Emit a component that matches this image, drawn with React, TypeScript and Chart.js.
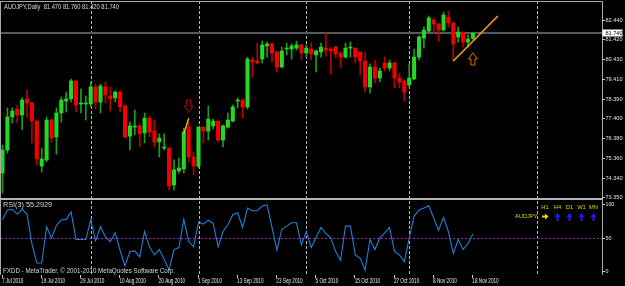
import { useEffect, useRef } from 'react';
import { Chart, registerables } from 'chart.js';

Chart.register(...registerables);

// ---------------- data ----------------
const symbol = 'AUDJPY';
const timeframe = 'Daily';

const opens = [
  74.59, 75.77, 77.46, 77.86, 77.56, 78.38, 78.17, 77.25, 74.95, 75.26,
  77.30, 76.43, 77.66, 78.27, 78.38, 79.30, 78.12, 78.12, 78.12, 78.99,
  78.22, 78.99, 78.53, 78.43, 78.73, 78.02, 76.48, 76.94, 77.00, 76.64,
  77.40, 76.74, 76.18, 75.87, 75.87, 73.98, 74.70, 74.80, 76.94, 75.41,
  74.95, 76.94, 76.74, 77.00, 77.25, 76.28, 76.94, 77.25, 78.27, 78.32,
  77.97, 80.37, 80.32, 80.42, 81.09, 81.19, 80.78, 80.01, 80.93, 80.93,
  80.98, 81.14, 80.73, 80.93, 80.63, 80.78, 80.98, 80.93, 81.03, 80.73,
  80.52, 80.98, 80.98, 80.78, 80.32, 78.99, 80.01, 79.45, 80.22, 79.96,
  80.22, 79.45, 79.30, 79.09, 79.40, 80.52, 81.49, 81.85, 82.41, 82.21,
  81.90, 82.57, 82.26, 81.55, 81.80, 81.29, 81.47,
];
const highs = [
  76.02, 77.92, 77.92, 78.07, 78.43, 78.84, 78.22, 77.30, 75.87, 77.46,
  77.35, 77.92, 78.48, 78.73, 79.40, 79.30, 78.89, 78.53, 79.25, 79.14,
  79.14, 79.25, 78.99, 78.79, 78.79, 78.07, 77.20, 77.81, 77.10, 77.66,
  77.51, 77.30, 76.59, 76.59, 75.87, 75.26, 75.36, 76.89, 77.20, 75.67,
  76.94, 76.94, 78.02, 77.35, 77.25, 77.05, 77.66, 78.07, 78.43, 78.38,
  80.52, 80.52, 81.24, 81.34, 81.29, 81.24, 80.83, 81.03, 81.24, 81.19,
  81.34, 81.19, 81.14, 81.24, 80.88, 81.24, 81.75, 81.03, 81.09, 80.78,
  81.24, 81.29, 80.98, 80.78, 80.78, 80.17, 80.37, 79.96, 80.52, 80.37,
  80.27, 79.70, 79.35, 80.17, 80.93, 81.60, 82.06, 82.62, 82.52, 82.26,
  82.82, 82.87, 82.31, 82.06, 81.80, 81.65, 81.76,
];
const lows = [
  73.57, 75.61, 77.15, 77.15, 76.79, 77.46, 76.13, 75.00, 74.64, 75.16,
  76.18, 75.56, 77.20, 77.71, 78.22, 77.71, 77.66, 77.30, 77.97, 77.86,
  77.66, 78.17, 77.76, 78.22, 77.71, 76.38, 75.77, 76.54, 75.92, 76.13,
  76.43, 75.92, 75.41, 75.77, 73.72, 73.72, 74.59, 74.59, 75.16, 74.49,
  74.85, 76.13, 76.28, 76.84, 76.18, 75.92, 76.89, 77.20, 77.92, 77.40,
  77.86, 79.50, 80.17, 80.22, 80.52, 80.27, 79.76, 79.96, 80.63, 80.42,
  80.88, 80.37, 80.52, 80.37, 79.76, 80.52, 80.57, 79.65, 80.47, 79.96,
  80.47, 80.52, 80.22, 79.60, 78.73, 78.68, 79.19, 79.25, 79.81, 79.81,
  78.94, 78.94, 78.27, 78.99, 79.35, 80.37, 80.98, 81.80, 81.75, 81.34,
  81.85, 82.06, 80.32, 81.29, 81.03, 81.03, 81.42,
];
const closes = [
  75.77, 77.46, 77.76, 77.56, 78.32, 78.17, 77.25, 75.31, 75.31, 77.30,
  76.38, 77.66, 78.32, 78.38, 79.30, 78.07, 78.13, 78.13, 78.99, 78.22,
  79.04, 78.58, 78.38, 78.73, 77.97, 76.43, 77.00, 76.95, 76.59, 77.40,
  76.69, 76.18, 76.38, 75.88, 73.93, 74.75, 74.85, 76.69, 75.41, 74.95,
  76.94, 76.74, 77.35, 77.25, 76.28, 77.00, 77.30, 77.97, 78.28, 77.97,
  80.42, 80.27, 80.22, 81.14, 81.19, 80.73, 80.01, 80.83, 80.94, 81.09,
  81.14, 80.73, 80.98, 80.68, 80.83, 81.03, 80.88, 80.83, 80.68, 80.52,
  80.98, 80.99, 80.52, 80.32, 78.99, 80.01, 79.45, 79.81, 79.96, 80.22,
  79.45, 79.25, 78.73, 79.45, 80.52, 81.55, 81.90, 82.52, 82.21, 81.90,
  82.67, 82.26, 81.19, 81.80, 81.29, 81.44, 81.74,
];
const rsi3 = [
  77, 91, 92, 85, 92, 85, 41, 12, 12, 66,
  49, 68, 76, 77, 88, 47, 47, 47, 76, 45,
  66, 51, 44, 57, 31, 7.5, 29, 30, 21, 59,
  36, 24, 32, 17, 2, 32, 35, 77, 44, 36,
  73, 70, 76, 71, 36, 59, 69, 84, 87, 65,
  94, 90, 90, 97, 98.5, 65, 31, 62, 67, 72,
  72, 39, 59, 35, 50, 65, 56, 49, 29, 16,
  67, 67, 24, 19, 1.5, 47, 32, 49, 57, 65,
  29, 24, 14, 49, 82, 91, 94, 97.5, 79, 61,
  80, 59, 26, 47, 32, 41, 55.2929,
];

const dateTickIndex = [0, 8, 16, 24, 32, 40, 48, 56, 64, 72, 80, 88, 96];
const dateTickLabels = [
  '7 Jul 2010', '19 Jul 2010', '29 Jul 2010', '10 Aug 2010', '20 Aug 2010',
  '1 Sep 2010', '13 Sep 2010', '23 Sep 2010', '5 Oct 2010', '15 Oct 2010',
  '27 Oct 2010', '8 Nov 2010', '18 Nov 2010',
];
const priceTicks = [82.44, 81.42, 80.43, 79.41, 78.39, 77.40, 76.38, 75.36, 74.34, 73.35];
const rsiTicks = [100, 50, 0];
const rsiLevel = 50;
const separatorIndex = [18, 40, 62, 83, 109];
const trendLine = [{ x: 92, y: 80.32 }, { x: 101.1, y: 82.62 }];
const shortLine = [{ x: 37.04, y: 76.62 }, { x: 38.0, y: 77.39 }];
const downArrow = { x: 38, top: 78.32, bottom: 77.7 };
const upArrow = { x: 96, top: 80.74, bottom: 80.11 };
const mtfPeriods = ['H1', 'H4', 'D1', 'W1', 'MN'];
const mtfSignals = ['right', 'up', 'up', 'up', 'up'];
const footerText = 'FXDD - MetaTrader, \u00A9 2001-2010 MetaQuotes Software Corp.';

// ---------------- geometry ----------------
const W = 625;
const H = 286;
const AREA = { left: 1, top: 1, right: 602, bottom: 275 };
const BAR_SPACING = 4.9;
const FIRST_BAR_X = 2.5;
const PRICE_TOP_TICK_Y = 19.5;
const PRICE_BOTTOM_TICK_Y = 197.3;
const RSI_100_Y = 204;
const RSI_0_Y = 271;
const PANEL_SPLIT_Y = 198;

const xMin = -(FIRST_BAR_X - AREA.left) / BAR_SPACING;
const xMax = xMin + (AREA.right - AREA.left) / BAR_SPACING;
const pTop = priceTicks[0];
const pBot = priceTicks[priceTicks.length - 1];
const pxPerPrice = (PRICE_BOTTOM_TICK_Y - PRICE_TOP_TICK_Y) / (pTop - pBot);
const yMax = pTop + (PRICE_TOP_TICK_Y - AREA.top) / pxPerPrice;
const yMin = pTop - (AREA.bottom - PRICE_TOP_TICK_Y) / pxPerPrice;
const pxPerRsi = (RSI_0_Y - RSI_100_Y) / 100;
const rMax = 100 + (RSI_100_Y - AREA.top) / pxPerRsi;
const rMin = -(AREA.bottom - RSI_0_Y) / pxPerRsi;

const BULL = '#22d822';
const BEAR = '#f40000';
const BULL_WICK = '#1e9e1e';
const BEAR_WICK = '#bb0000';
const FONT = '"Liberation Sans", Arial, sans-serif';

function drawText(
  ctx: CanvasRenderingContext2D, s: string, x: number, y: number, size: number,
  color: string, align: 'left' | 'right' | 'center' = 'left', sx = 1, fitWidth?: number,
) {
  ctx.save();
  ctx.font = `${size}px ${FONT}`;
  ctx.fillStyle = color;
  ctx.textBaseline = 'middle';
  ctx.textAlign = 'left';
  const m = ctx.measureText(s).width;
  const k = fitWidth ? fitWidth / m : sx;
  const w = m * k;
  let x0 = x;
  if (align === 'right') x0 = x - w;
  else if (align === 'center') x0 = x - w / 2;
  ctx.translate(x0, y);
  ctx.scale(k, 1);
  ctx.fillText(s, 0, 0);
  ctx.restore();
}

function hollowArrow(
  ctx: CanvasRenderingContext2D, cx: number, yTop: number, yBot: number, dir: 'up' | 'down', color: string,
) {
  const hw = 4.5;
  const sw = 2;
  const mid = (yTop + yBot) / 2;
  ctx.save();
  ctx.strokeStyle = color;
  ctx.lineWidth = 1;
  ctx.beginPath();
  if (dir === 'down') {
    ctx.moveTo(cx - sw, yTop);
    ctx.lineTo(cx + sw, yTop);
    ctx.lineTo(cx + sw, mid);
    ctx.lineTo(cx + hw, mid);
    ctx.lineTo(cx, yBot);
    ctx.lineTo(cx - hw, mid);
    ctx.lineTo(cx - sw, mid);
  } else {
    ctx.moveTo(cx - sw, yBot);
    ctx.lineTo(cx + sw, yBot);
    ctx.lineTo(cx + sw, mid);
    ctx.lineTo(cx + hw, mid);
    ctx.lineTo(cx, yTop);
    ctx.lineTo(cx - hw, mid);
    ctx.lineTo(cx - sw, mid);
  }
  ctx.closePath();
  ctx.stroke();
  ctx.restore();
}

const mtPlugin = {
  id: 'mt4look',
  beforeDraw(chart: any) {
    const ctx = chart.ctx;
    ctx.save();
    ctx.fillStyle = '#000000';
    ctx.fillRect(0, 0, chart.width, chart.height);
    ctx.restore();
  },
  beforeDatasetsDraw(chart: any) {
    const { ctx, chartArea: a, scales } = chart;
    ctx.save();
    ctx.strokeStyle = '#b8b8b8';
    ctx.lineWidth = 1;
    ctx.setLineDash([3, 2]);
    separatorIndex.forEach((i) => {
      const x = Math.round(scales.x.getPixelForValue(i)) + 0.5;
      ctx.beginPath();
      ctx.moveTo(x, a.top);
      ctx.lineTo(x, a.bottom);
      ctx.stroke();
    });
    ctx.strokeStyle = '#9b22b8';
    ctx.setLineDash([2, 2]);
    const yl = Math.round(scales.rsi.getPixelForValue(rsiLevel)) + 0.5;
    ctx.beginPath();
    ctx.moveTo(a.left, yl);
    ctx.lineTo(a.right, yl);
    ctx.stroke();
    ctx.setLineDash([]);
    ctx.strokeStyle = '#575b61';
    ctx.lineWidth = 2;
    const yp = Math.round(scales.y.getPixelForValue(closes[closes.length - 1]));
    ctx.beginPath();
    ctx.moveTo(a.left, yp);
    ctx.lineTo(a.right, yp);
    ctx.stroke();
    ctx.restore();
  },
  afterDatasetsDraw(chart: any) {
    const { ctx, chartArea: a, scales } = chart;
    const sx = scales.x, sy = scales.y, sr = scales.rsi;
    hollowArrow(ctx, sx.getPixelForValue(downArrow.x), sy.getPixelForValue(downArrow.top),
      sy.getPixelForValue(downArrow.bottom), 'down', '#b80a0a');
    hollowArrow(ctx, sx.getPixelForValue(upArrow.x), sy.getPixelForValue(upArrow.top),
      sy.getPixelForValue(upArrow.bottom), 'up', '#d86e00');

    ctx.save();
    ctx.fillStyle = '#a8a8a8';
    ctx.fillRect(a.left, a.top, a.right - a.left, 1);
    ctx.fillRect(a.left - 1, a.top, 1, a.bottom - a.top);
    ctx.fillRect(a.right, a.top, 1, a.bottom - a.top);
    ctx.fillStyle = '#b4b4b4';
    ctx.fillRect(0, PANEL_SPLIT_Y, a.right + 1, 2);
    priceTicks.forEach((p) => {
      const y = Math.round(sy.getPixelForValue(p));
      ctx.fillStyle = '#c8c8c8';
      ctx.fillRect(a.right, y, 3, 1);
      drawText(ctx, p.toFixed(3), a.right + 3.5, y + 0.5, 6.2, '#e2e2e2', 'left', 0.9);
    });
    rsiTicks.forEach((r) => {
      const y = Math.round(sr.getPixelForValue(r));
      ctx.fillStyle = '#c8c8c8';
      ctx.fillRect(a.right, y, 3, 1);
      drawText(ctx, String(r), a.right + 3.5, y + 0.5, 6.2, '#e2e2e2', 'left', 0.85);
    });
    const last = closes.length - 1;
    const yc = Math.round(sy.getPixelForValue(closes[last]));
    ctx.fillStyle = '#ffffff';
    ctx.fillRect(a.right + 0.5, yc - 3.5, 20, 7);
    drawText(ctx, closes[last].toFixed(3), a.right + 3.5, yc + 0.5, 6.2, '#000000', 'left', 0.9);
    dateTickIndex.forEach((i, k) => {
      const x = sx.getPixelForValue(i);
      ctx.fillStyle = '#c8c8c8';
      ctx.fillRect(Math.round(x) - 1, a.bottom, 1, 3);
      drawText(ctx, dateTickLabels[k], x - 0.6, 280.6, 7.4, '#e6e6e6', 'left', 0.63);
    });
    const hdr = `${symbol},${timeframe}  ${opens[last].toFixed(3)} ${highs[last].toFixed(3)} ${lows[last].toFixed(3)} ${closes[last].toFixed(3)}`;
    drawText(ctx, hdr, 4, 6.6, 7, '#d8d8d8', 'left', 1, 115);
    drawText(ctx, `RSI(3) ${rsi3[last].toFixed(4)}`, 3, 205.4, 7, '#d8d8d8', 'left', 1, 49);
    drawText(ctx, footerText, 3, 270.8, 7, '#d8d8d8', 'left', 1, 172);
    const colX = [545, 557.5, 569.5, 581.5, 593.5];
    mtfPeriods.forEach((p, k) => drawText(ctx, p, colX[k], 207.4, 6, '#e6d400', 'center', 0.95));
    drawText(ctx, symbol, 537.5, 216.8, 6, '#e6d400', 'right', 0.95);
    mtfSignals.forEach((s, k) => {
      const cx = colX[k];
      ctx.beginPath();
      if (s === 'right') {
        ctx.fillStyle = '#f2d400';
        ctx.rect(cx - 3, 215.6, 3.2, 1.8);
        ctx.moveTo(cx, 213.6);
        ctx.lineTo(cx + 3.6, 216.5);
        ctx.lineTo(cx, 219.4);
      } else {
        ctx.fillStyle = '#1a1aff';
        ctx.moveTo(cx - 3, 217);
        ctx.lineTo(cx, 213);
        ctx.lineTo(cx + 3, 217);
        ctx.closePath();
        ctx.rect(cx - 1, 216.5, 2, 4.5);
      }
      ctx.fill();
    });
    ctx.restore();
  },
};

export default function App() {
  const ref = useRef<HTMLCanvasElement>(null);
  useEffect(() => {
    document.body.style.margin = '0';
    const bodies = opens.map((o, i) => ({ x: i, y: [o, closes[i]] }));
    const wicks = lows.map((l, i) => ({ x: i, y: [l, highs[i]] }));
    const bull = opens.map((o, i) => closes[i] >= o);
    const rsiPts = rsi3.map((v, i) => ({ x: i, y: v }));
    const chart = new Chart(ref.current as HTMLCanvasElement, {
      type: 'bar',
      data: {
        datasets: [
          {
            type: 'line', data: trendLine as any, borderColor: '#ff9a1a', borderWidth: 1.6,
            pointRadius: 0, xAxisID: 'x', yAxisID: 'y', order: 0,
          } as any,
          {
            type: 'line', data: shortLine as any, borderColor: '#e8c21a', borderWidth: 1.4,
            pointRadius: 0, xAxisID: 'x', yAxisID: 'y', order: 0,
          } as any,
          {
            type: 'line', data: rsiPts as any, borderColor: '#1f7fd4', borderWidth: 1.1,
            pointRadius: 0, tension: 0, xAxisID: 'x', yAxisID: 'rsi', order: 1,
          } as any,
          {
            type: 'bar', data: bodies as any, grouped: false, barThickness: 3.4, minBarLength: 1,
            backgroundColor: bull.map((b) => (b ? BULL : BEAR)), borderWidth: 0,
            xAxisID: 'x', yAxisID: 'y', order: 2,
          } as any,
          {
            type: 'bar', data: wicks as any, grouped: false, barThickness: 1,
            backgroundColor: bull.map((b) => (b ? BULL_WICK : BEAR_WICK)), borderWidth: 0,
            xAxisID: 'x', yAxisID: 'y', order: 3,
          } as any,
        ],
      },
      options: {
        animation: false,
        responsive: false,
        maintainAspectRatio: false,
        devicePixelRatio: 1,
        layout: { padding: { left: AREA.left, top: AREA.top, right: W - AREA.right, bottom: H - AREA.bottom } },
        plugins: { legend: { display: false }, tooltip: { enabled: false } },
        events: [],
        scales: {
          x: { type: 'linear', min: xMin, max: xMax, offset: false, display: false, bounds: 'ticks' },
          y: { type: 'linear', min: yMin, max: yMax, offset: false, display: false },
          rsi: { type: 'linear', position: 'right', min: rMin, max: rMax, offset: false, display: false },
        },
      } as any,
      plugins: [mtPlugin],
    });
    return () => chart.destroy();
  }, []);
  return (
    <div style={{ position: 'fixed', left: 0, top: 0, width: W, height: H, background: '#000' }}>
      <canvas ref={ref} width={W} height={H} style={{ display: 'block', width: W, height: H }} />
    </div>
  );
}
